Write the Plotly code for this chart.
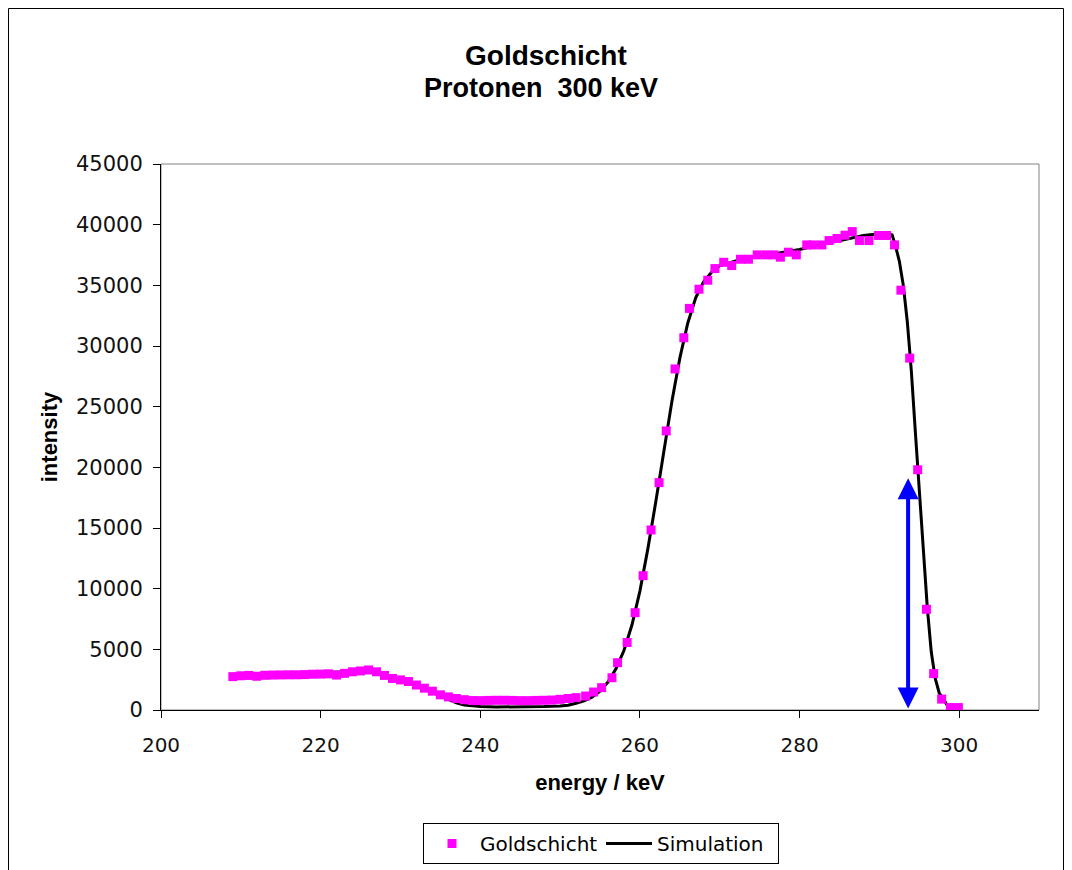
import plotly.graph_objects as go

# ---- data ----
gold_energy = [209.0, 210.0, 211.0, 212.0, 213.0, 214.0, 215.0, 216.0, 217.0, 218.0,
               219.0, 220.0, 221.0, 222.0, 223.0, 224.0, 225.0, 226.0, 227.0, 228.0,
               229.0, 230.0, 231.0, 232.0, 233.0, 234.0, 235.0, 236.0, 237.0, 238.0,
               239.0, 240.0, 241.0, 242.0, 243.0, 244.0, 245.0, 246.0, 247.0, 248.0,
               249.0, 250.0, 251.0, 252.0, 253.2, 254.2, 255.2, 256.5, 257.2, 258.4,
               259.4, 260.4, 261.4, 262.4, 263.3, 264.4, 265.5, 266.2, 267.4, 268.5,
               269.4, 270.5, 271.5, 272.6, 273.6, 274.7, 275.8, 276.8, 277.6, 278.6,
               279.6, 280.9, 281.7, 282.8, 283.7, 284.7, 285.7, 286.6, 287.5, 288.7,
               289.9, 290.9, 291.9, 292.7, 293.8, 294.8, 295.9, 296.8, 297.8, 298.9,
               299.9]
gold_intensity = [2750, 2820, 2850, 2780, 2860, 2880, 2890, 2900, 2900, 2920,
                  2950, 2960, 2980, 2880, 3020, 3150, 3220, 3300, 3150, 2850,
                  2600, 2480, 2350, 2060, 1800, 1550, 1250, 1080, 950, 850,
                  780, 770, 790, 800, 800, 790, 770, 770, 790, 800,
                  820, 880, 950, 1020, 1150, 1480, 1840, 2660, 3900, 5560,
                  8020, 11070, 14840, 18740, 23000, 28110, 30680, 33100, 34680, 35420,
                  36380, 36900, 36630, 37150, 37150, 37510, 37510, 37510, 37320, 37730,
                  37510, 38330, 38330, 38330, 38690, 38860, 39130, 39430, 38690, 38690,
                  39110, 39110, 38330, 34600, 29000, 19800, 8300, 3000, 900, 200,
                  200]

sim_energy = [209.5, 211, 213, 215, 217, 219, 221, 223, 225, 226,
              227, 228, 229, 230, 231, 232, 233, 234, 235, 236,
              237, 238, 239, 240, 242, 244, 246, 248, 250, 251,
              252, 253, 254, 255, 256, 257, 258, 259, 260, 261,
              262, 263, 264, 265, 266, 267, 268, 269, 270, 272,
              274, 276, 278, 280, 282, 284, 286, 288, 290, 291,
              291.6, 292, 292.5, 293, 293.5, 294, 294.5, 295, 295.5, 296,
              296.5, 297, 297.5, 298, 298.5, 299, 300]
sim_intensity = [2950, 3000, 3020, 3050, 3080, 3120, 3150, 3170, 3200, 3180,
                 3050, 2850, 2650, 2450, 2250, 2000, 1750, 1450, 1150, 850,
                 600, 420, 320, 280, 250, 240, 250, 280, 330, 400,
                 550, 750, 1050, 1550, 2300, 3400, 4900, 7000, 9800, 13300,
                 17200, 21300, 25400, 29000, 31900, 34000, 35300, 36100, 36600, 37000,
                 37300, 37500, 37700, 37950, 38250, 38550, 38850, 39100, 39250, 39300,
                 39150, 38300, 37000, 35000, 32000, 28000, 23000, 18000, 13000, 8500,
                 4800, 2600, 1400, 850, 400, 150, 50]

x_ticks = [200, 220, 240, 260, 280, 300]
y_ticks = [0, 5000, 10000, 15000, 20000, 25000, 30000, 35000, 40000, 45000]

arrow_energy = 293.6
arrow_bottom = 0
arrow_top = 19100

title_line1 = "Goldschicht"
title_line2 = "Protonen\u00a0 300 keV"

# ---- figure ----
fig = go.Figure()
fig.add_trace(go.Scatter(
    x=sim_energy, y=sim_intensity, mode="lines", name="Simulation",
    line=dict(color="black", width=3)))
fig.add_trace(go.Scatter(
    x=gold_energy, y=gold_intensity, mode="markers", name="Goldschicht",
    marker=dict(symbol="square", size=9, color="#FF00FF", line=dict(width=0))))

fig.add_annotation(
    x=arrow_energy, y=arrow_top, ax=arrow_energy, ay=arrow_bottom,
    xref="x", yref="y", axref="x", ayref="y", text="",
    showarrow=True, arrowside="end+start", arrowhead=2, startarrowhead=2,
    arrowsize=1.05, startarrowsize=1.05, arrowwidth=4, arrowcolor="#0000FF",
    standoff=0, startstandoff=0)

bold = "Liberation Sans"
reg = "DejaVu Sans"

# plot area in figure pixels: left 153, top 156, width 878, height 546
PL, PT, PW, PH = 153, 156, 878, 546


def px(xp):
    return (xp - PL) / PW


def py(yp):
    return (PT + PH - yp) / PH


fig.add_annotation(text="<b>" + title_line1 + "</b>", xref="paper", yref="paper",
                   x=px(538), y=py(47), xanchor="center", yanchor="middle",
                   showarrow=False, font=dict(family=bold, size=28, color="black"))
fig.add_annotation(text="<b>" + title_line2 + "</b>", xref="paper", yref="paper",
                   x=px(533), y=py(80), xanchor="center", yanchor="middle",
                   showarrow=False, font=dict(family=bold, size=27, color="black"))

# plot-area frame (grey) and chart border
fig.add_shape(type="rect", xref="x domain", yref="y domain", x0=0, x1=1, y0=0, y1=1,
              line=dict(color="#808080", width=1), layer="below")
fig.add_shape(type="rect", xref="paper", yref="paper",
              x0=px(0.5), x1=px(1055.5), y0=py(900), y1=py(0.5),
              line=dict(color="black", width=1), layer="below")

fig.update_layout(
    width=1064, height=862,
    margin=dict(l=PL, r=1064 - PL - PW, t=PT, b=862 - PT - PH, autoexpand=False),
    paper_bgcolor="white", plot_bgcolor="white",
    showlegend=True,
    legend=dict(orientation="h", x=px(415), xanchor="left", y=py(815), yanchor="top",
                traceorder="reversed", bordercolor="black", borderwidth=1,
                itemwidth=46, entrywidth=116, entrywidthmode="pixels",
                font=dict(family=reg, size=20, color="black"), bgcolor="white"),
    xaxis=dict(range=[200, 310], tickvals=x_ticks, ticktext=[str(v) for v in x_ticks],
               ticks="outside", ticklen=7,
               tickcolor="black", showline=True, linecolor="black", linewidth=1,
               showgrid=False, zeroline=False, ticklabelstandoff=10, automargin=False,
               tickfont=dict(family=reg, size=20, color="#111"),
               title=dict(text="<b>energy / keV</b>", standoff=18,
                          font=dict(family=bold, size=22, color="black"))),
    yaxis=dict(range=[0, 45000], tickvals=y_ticks, ticktext=[str(v) for v in y_ticks],
               ticks="outside", ticklen=7,
               tickcolor="black", showline=True, linecolor="black", linewidth=1,
               showgrid=False, zeroline=False, ticklabelstandoff=6, automargin=False,
               tickfont=dict(family=reg, size=21, color="#111"),
               title=dict(text="<b>intensity</b>", standoff=12,
                          font=dict(family=bold, size=22, color="black"))),
)

fig.write_html("out.html")
